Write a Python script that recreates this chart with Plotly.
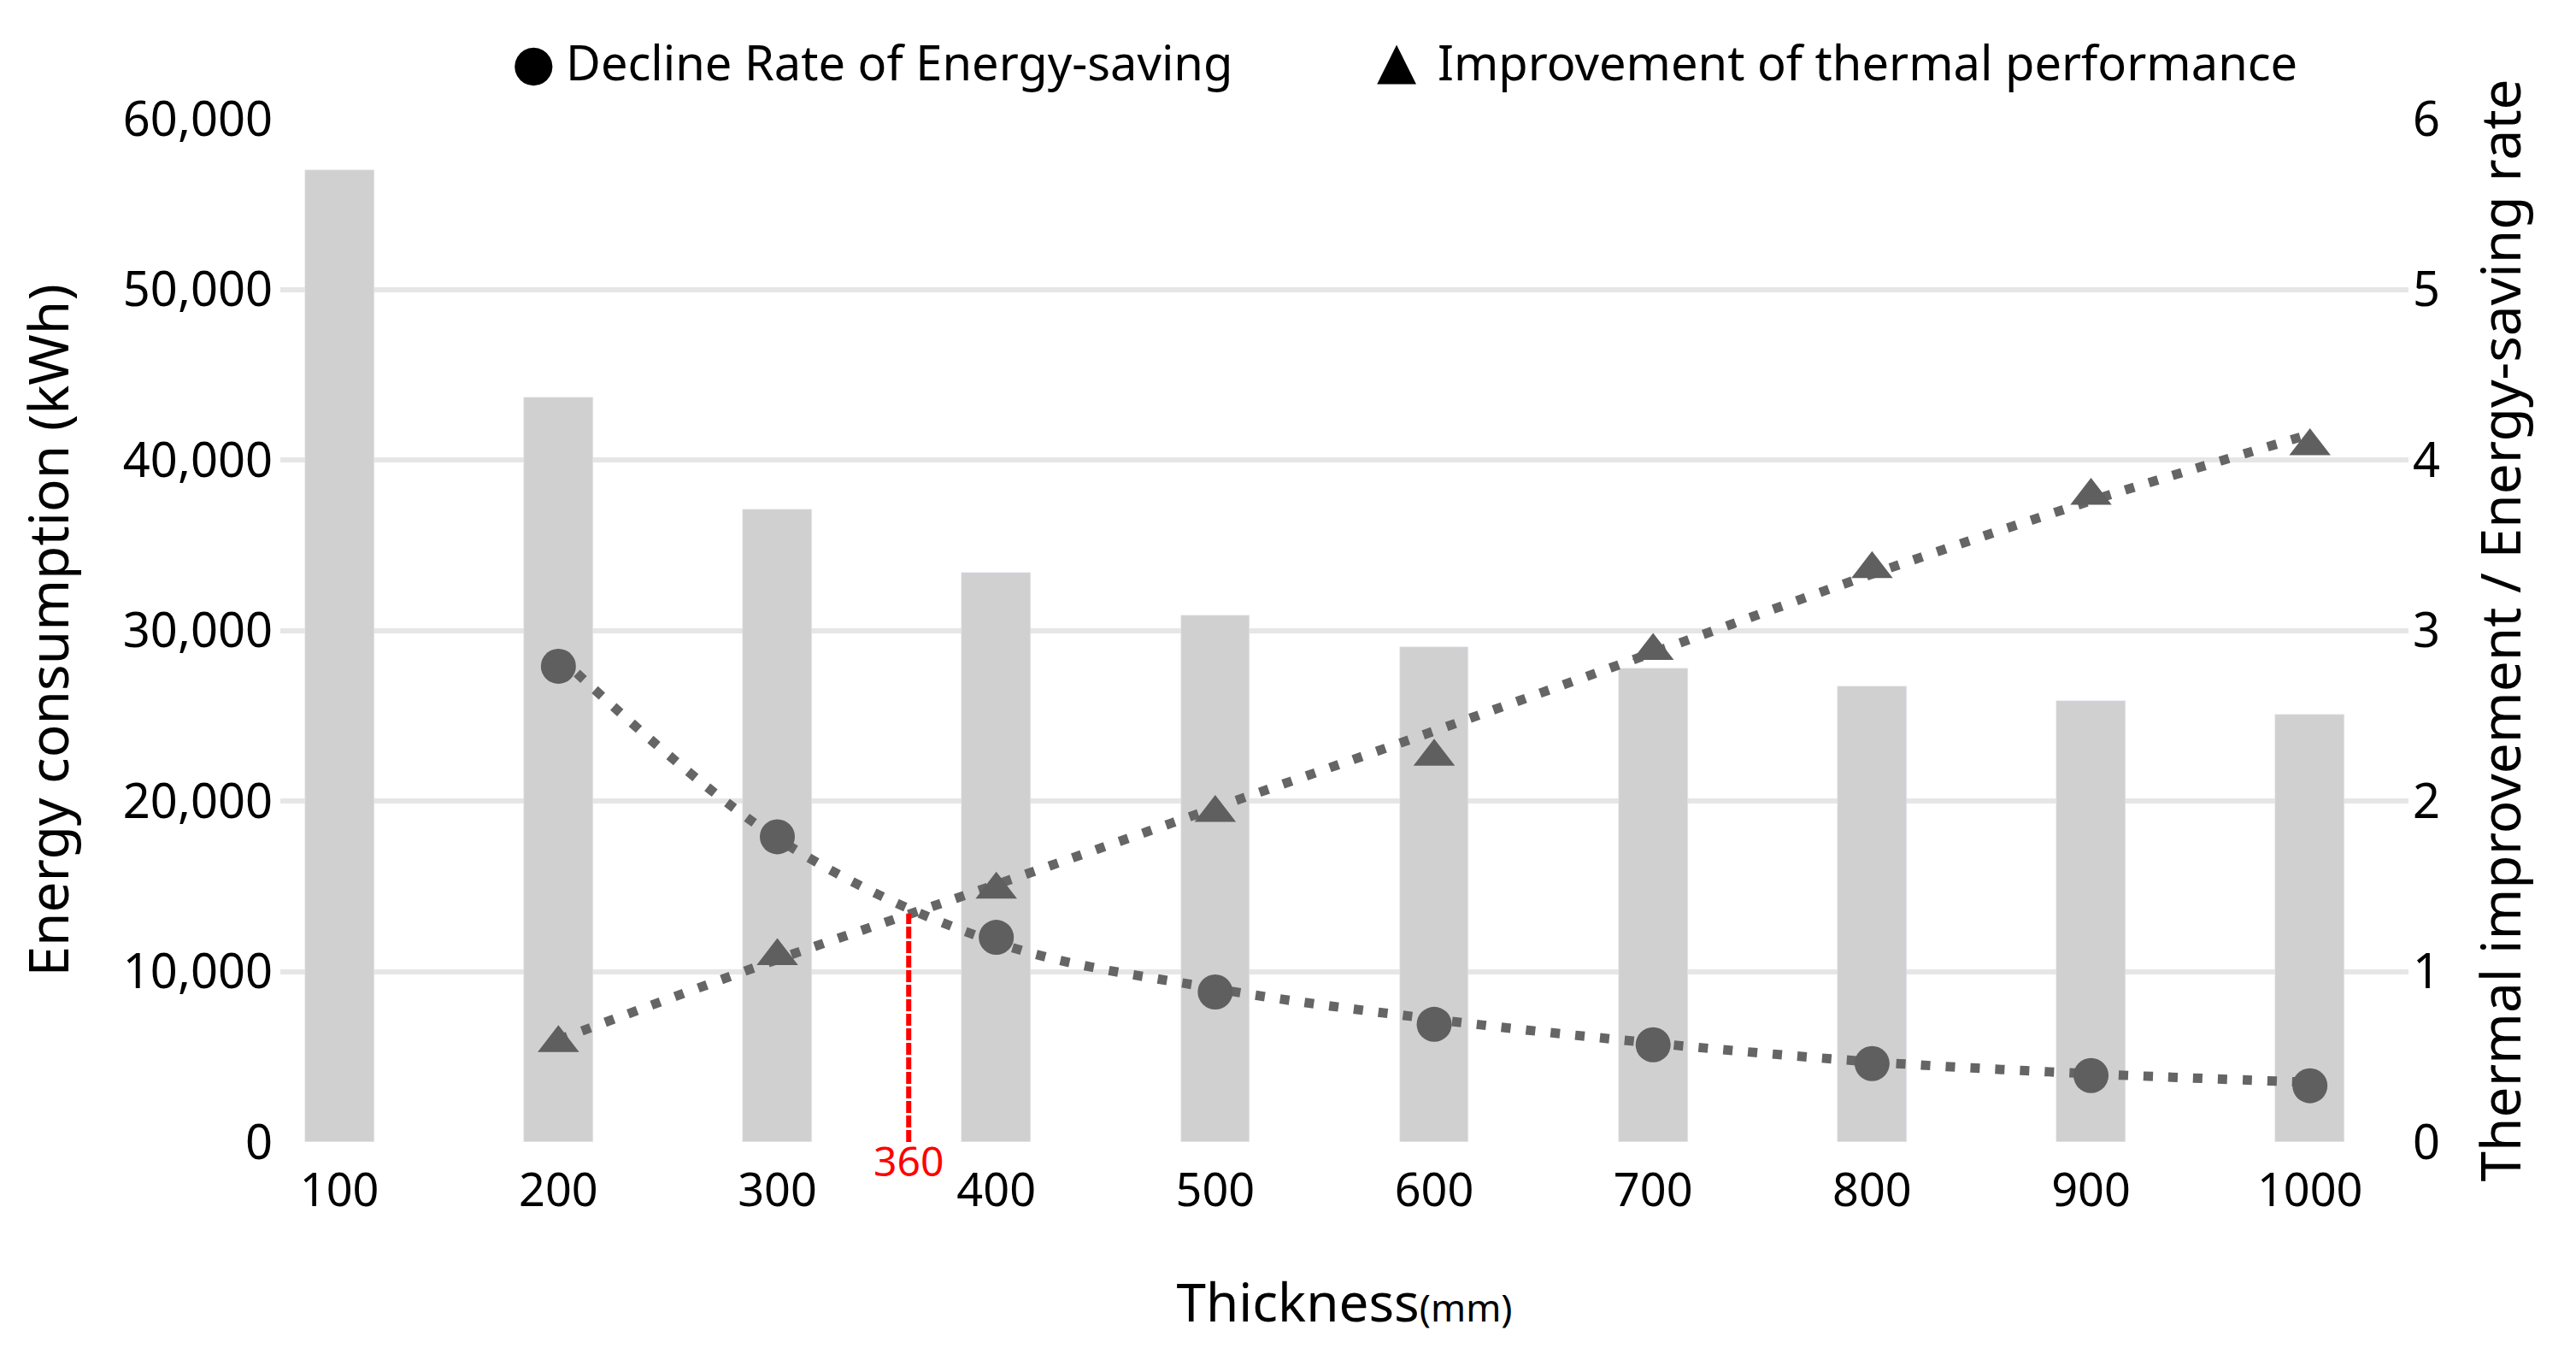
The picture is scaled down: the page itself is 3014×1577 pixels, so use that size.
import plotly.graph_objects as go

thickness = [100, 200, 300, 400, 500, 600, 700, 800, 900, 1000]
energy = [57000, 43650, 37070, 33380, 30900, 29040, 27780, 26720, 25850, 25080]

rate_x = [200, 300, 400, 500, 600, 700, 800, 900, 1000]
decline_rate = [2.79, 1.79, 1.20, 0.88, 0.69, 0.57, 0.46, 0.39, 0.33]
thermal_impr = [0.58, 1.09, 1.48, 1.93, 2.26, 2.88, 3.36, 3.79, 4.08]

trend_decline = [2.85, 1.78, 1.17, 0.90, 0.72, 0.58, 0.47, 0.40, 0.35]
trend_thermal = [0.60, 1.07, 1.51, 1.96, 2.41, 2.87, 3.33, 3.76, 4.15]

cross_x = 360
cross_y = 1.34

legend_labels = ["Decline Rate of Energy-saving", "Improvement of thermal performance"]

FONT = "Noto Sans"
SYMFONT = "DejaVu Sans"
BAR = "#d0d0d0"
MARK = "#5f5f5f"
LINE = "#656565"
GRID = "#e6e6e6"

W, H = 3014, 1577
L, R, T, B = 320, 204, 131, 249
pw = W - L - R
ph = H - T - B


def px_x(p):
    return (p - L) / pw


def px_y(p):
    return (H - B - p) / ph


fig = go.Figure()
fig.add_trace(go.Bar(x=thickness, y=energy, width=31.5, marker_color=BAR,
                     showlegend=False, name="Energy consumption"))
for tr in (trend_decline, trend_thermal):
    fig.add_trace(go.Scatter(x=rate_x, y=tr, yaxis="y2", mode="lines",
                             line=dict(color=LINE, width=11, dash="11px,18px", shape="spline"),
                             showlegend=False, hoverinfo="skip"))
fig.add_trace(go.Scatter(x=rate_x, y=decline_rate, yaxis="y2", mode="markers",
                         marker=dict(symbol="circle", size=41, color=MARK),
                         name=legend_labels[0], showlegend=False))
fig.add_trace(go.Scatter(x=rate_x, y=thermal_impr, yaxis="y2", mode="markers",
                         marker=dict(symbol="triangle-up", size=42, color=MARK),
                         name=legend_labels[1], showlegend=False))

# red dashed marker at intersection
fig.add_shape(type="line", x0=cross_x, x1=cross_x, y0=0, y1=cross_y, xref="x", yref="y2",
              line=dict(color="#ff0000", width=6, dash="14px,3px"))
fig.add_annotation(x=cross_x, y=0, xref="x", yref="y2", text=str(cross_x), showarrow=False,
                   yanchor="middle", yshift=-21, font=dict(family=FONT, size=48, color="#ff0000"))

# legend (top)
fig.add_annotation(x=px_x(616), y=px_y(65), xref="paper", yref="paper", text="●",
                   showarrow=False, xanchor="center", yanchor="middle",
                   font=dict(family=SYMFONT, size=58, color="black"))
fig.add_annotation(x=px_x(652), y=px_y(64), xref="paper", yref="paper", text=legend_labels[0],
                   showarrow=False, xanchor="left", yanchor="middle",
                   font=dict(family=FONT, size=56, color="black"))
fig.add_annotation(x=px_x(1626), y=px_y(62), xref="paper", yref="paper", text="▲",
                   showarrow=False, xanchor="center", yanchor="middle",
                   font=dict(family=SYMFONT, size=60, color="black"))
fig.add_annotation(x=px_x(1672), y=px_y(64), xref="paper", yref="paper", text=legend_labels[1],
                   showarrow=False, xanchor="left", yanchor="middle",
                   font=dict(family=FONT, size=56, color="black"))

fig.update_layout(
    width=W, height=H,
    margin=dict(l=L, r=R, t=T, b=B, autoexpand=False),
    paper_bgcolor="white", plot_bgcolor="white",
    font=dict(family=FONT, color="black"),
    bargap=0,
    xaxis=dict(range=[73, 1045], tickvals=thickness, ticktext=[str(t) for t in thickness],
               showgrid=False, zeroline=False, showline=False,
               ticks="", ticklabelstandoff=20, tickfont=dict(family=FONT, size=54),
               title=dict(text="Thickness<span style='font-size:44px'>(mm)</span>",
                          font=dict(family=FONT, size=62), standoff=76)),
    yaxis=dict(range=[0, 60000], dtick=10000, tickformat=",", showgrid=True,
               gridcolor=GRID, gridwidth=6, zeroline=False, showline=False,
               ticks="", ticklabelstandoff=8, tickfont=dict(family=FONT, size=56),
               title=dict(text="Energy consumption (kWh)", font=dict(family=FONT, size=64),
                          standoff=42)),
    yaxis2=dict(range=[0, 6], dtick=1, overlaying="y", side="right", showgrid=False,
                zeroline=False, showline=False, ticks="", ticklabelstandoff=4,
                tickfont=dict(family=FONT, size=56),
                title=dict(text="Thermal improvement / Energy-saving rate",
                           font=dict(family=FONT, size=64), standoff=50)),
)

fig.write_html("out.html")
